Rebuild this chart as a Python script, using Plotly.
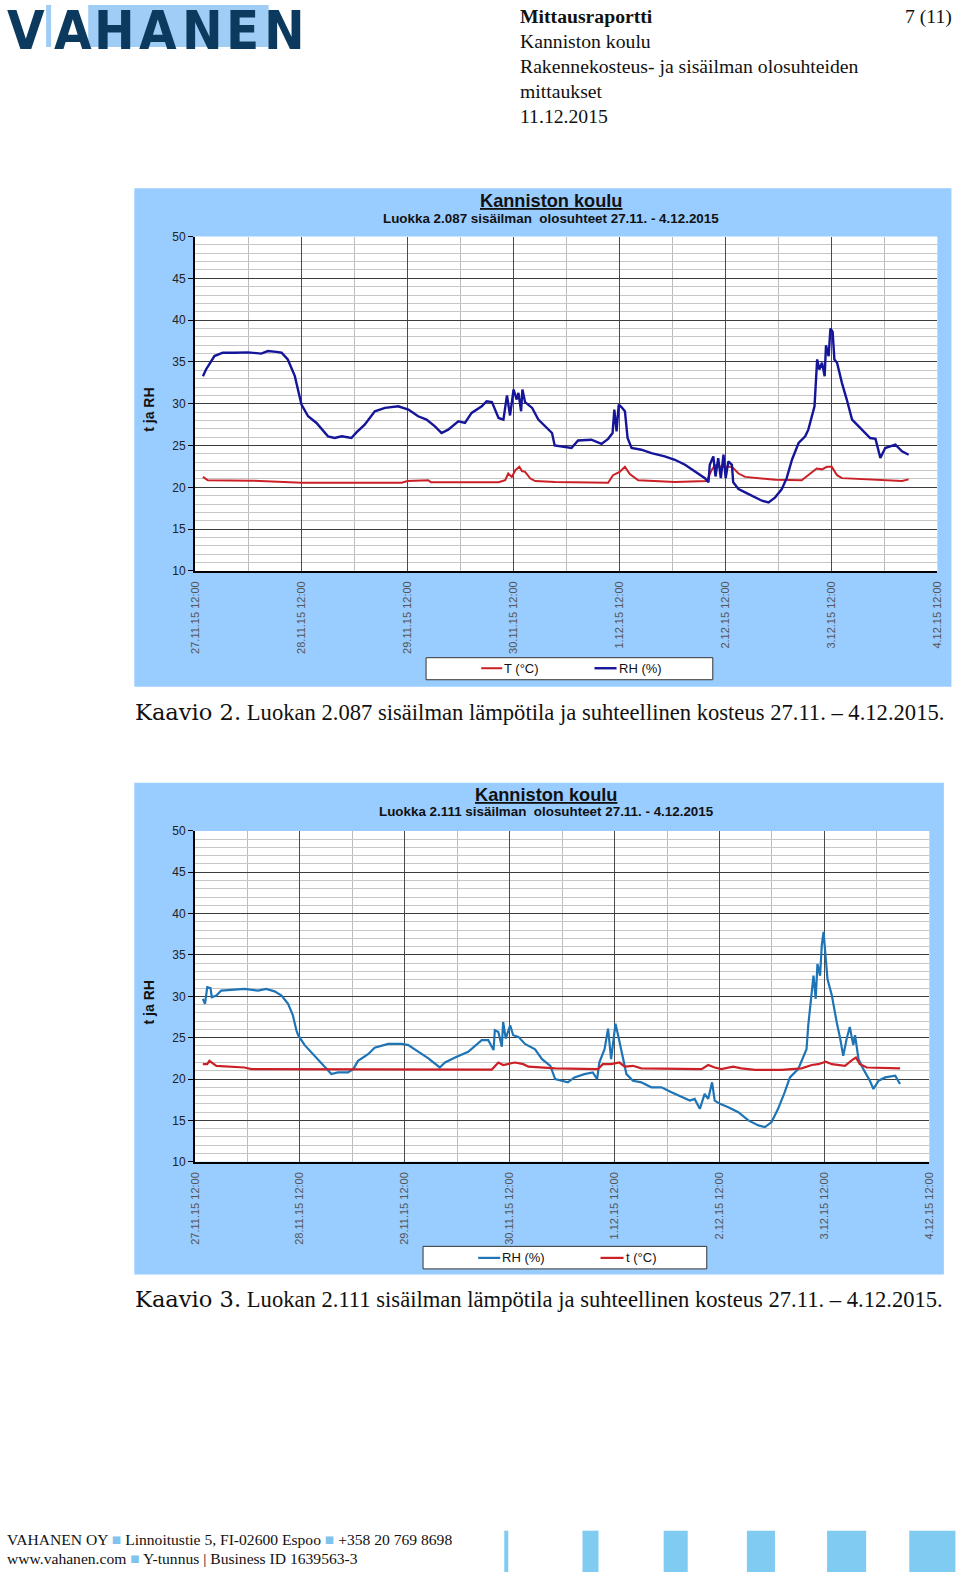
import pandas as pd
import plotly.graph_objects as go

W, H = 960, 1572
# the snapshot shows page point p at 6 + 0.985 p (x) and 6 + 0.99 p (y); place marks so they land on target
OX, OY, SX, SY = 6.0, 6.0, 0.985, 0.99
BASE = pd.Timestamp("2015-11-27 12:00")

# --- data (hours after 27.11.15 12:00, value) ---
tick_labels = ["27.11.15 12:00", "28.11.15 12:00", "29.11.15 12:00", "30.11.15 12:00",
               "1.12.15 12:00", "2.12.15 12:00", "3.12.15 12:00", "4.12.15 12:00"]
tick_hours = [0, 24, 48, 72, 96, 120, 144, 168]

# Kaavio 2, luokka 2.087
rh1_h = [1.8, 2.5, 4.4, 6.3, 9.0, 12.0, 15.0, 16.5, 18.4, 19.6, 21.0, 22.6, 23.3, 24.1, 25.6,
         27.5, 30.1, 31.6, 33.2, 35.4, 36.6, 38.4, 40.7, 43.0, 46.0, 48.3, 50.5, 52.4, 54.3,
         55.8, 57.3, 59.6, 61.1, 62.6, 64.9, 66.0, 67.2, 68.7, 69.8, 70.6, 71.3, 72.1, 72.8,
         73.2, 73.8, 74.1, 74.7, 76.3, 77.7, 79.3, 80.8, 81.4, 82.9, 85.2, 86.7, 89.7, 92.0,
         93.5, 94.5, 94.9, 95.4, 95.9, 96.5, 97.3, 97.9, 98.8, 101.0, 103.3, 106.3, 108.6,
         110.9, 113.1, 115.4, 116.2, 116.5, 117.3, 117.8, 118.4, 119.0, 119.6, 120.1, 120.7,
         121.5, 121.8, 123.0, 124.5, 126.7, 128.3, 129.8, 131.3, 132.8, 133.9, 135.1, 136.6,
         138.1, 138.8, 140.2, 140.8, 141.3, 141.9, 142.5, 142.8, 143.4, 143.8, 144.3, 144.7,
         145.3, 146.4, 147.5, 148.7, 150.2, 151.7, 152.8, 154.0, 155.1, 156.2, 158.5, 160.0,
         161.5]
rh1_v = [33.3, 34.1, 35.7, 36.1, 36.1, 36.15, 36.0, 36.3, 36.2, 36.1, 35.3, 33.3, 31.7, 29.9, 28.5,
         27.7, 26.1, 25.9, 26.1, 25.9, 26.6, 27.5, 29.1, 29.5, 29.7, 29.3, 28.5, 28.1, 27.3,
         26.5, 26.9, 27.9, 27.7, 28.9, 29.7, 30.3, 30.2, 28.3, 28.1, 31.0, 28.6, 31.7, 30.5,
         31.3, 29.1, 31.7, 30.2, 29.5, 28.1, 27.3, 26.5, 25.0, 24.9, 24.7, 25.6, 25.7, 25.2,
         25.8, 26.5, 29.3, 26.7, 29.9, 29.6, 29.1, 25.9, 24.7, 24.5, 24.1, 23.7, 23.3,
         22.7, 21.9, 21.1, 20.6, 22.7, 23.7, 21.3, 23.5, 21.1, 23.9, 21.1, 23.1,
         22.7, 20.6, 19.8, 19.4, 18.8, 18.4, 18.2, 18.8, 19.8, 21.1, 23.3, 25.3,
         26.1, 26.9, 29.7, 35.3, 34.1, 34.9, 33.3, 37.0, 35.7, 39.0, 38.6, 35.3,
         34.9, 32.5, 30.5, 28.1, 27.3, 26.5, 25.9, 25.8, 23.5, 24.7, 25.1, 24.3,
         23.9]
t1_h = [1.8, 2.9, 12.7, 24.1, 46.8, 48.1, 52.8, 53.4, 68.7, 70.2, 70.9, 71.7, 72.5, 73.4, 74.0,
        74.7, 75.9, 77.0, 81.5, 93.5, 94.6, 96.1, 97.3, 98.4, 100.3, 108.6, 115.8, 116.9, 117.7,
        119.2, 121.5, 123.0, 124.5, 131.3, 137.3, 140.7, 141.9, 143.0, 144.1, 145.3, 146.4,
        150.9, 159.3, 160.0, 161.5]
t1_v = [21.25, 20.85, 20.8, 20.55, 20.55, 20.75, 20.85, 20.6, 20.6, 20.85, 21.65, 21.25, 22.05, 22.45, 21.95,
        21.85, 21.05, 20.75, 20.65, 20.55, 21.45, 21.85, 22.45, 21.6, 20.85, 20.65, 20.75, 22.05, 22.65,
        22.45, 22.45, 21.65, 21.25, 20.9, 20.85, 22.25, 22.15, 22.45, 22.45, 21.45, 21.1,
        21.0, 20.85, 20.75, 20.95]

# Kaavio 3, luokka 2.111
rh2_h = [1.8, 2.3, 2.8, 3.55, 3.85, 4.9, 6.0, 8.3, 11.3, 14.4, 16.3, 18.2, 19.8, 21.3, 22.4, 23.2,
         23.6, 25.1, 27.4, 29.7, 31.2, 32.7, 35.0, 36.2, 37.3, 39.6, 41.1, 44.2, 47.3, 48.8,
         51.1, 53.4, 56.0, 57.2, 59.5, 62.5, 65.6, 67.1, 68.3, 68.6, 69.4, 70.2, 70.5, 71.1,
         72.1, 72.8, 74.0, 75.5, 77.8, 79.4, 81.3, 82.4, 85.3, 86.8, 89.1, 91.0, 92.0, 92.5,
         93.7, 94.5, 95.2, 96.2, 96.8, 97.5, 98.7, 100.2, 102.1, 104.4, 106.7, 109.0, 111.3,
         113.2, 114.3, 115.5, 116.6, 117.4, 118.3, 118.9, 120.1, 122.0, 124.3, 126.6, 128.9,
         130.4, 131.9, 133.4, 134.9, 136.1, 138.0, 139.9, 140.3, 140.9, 141.5, 142.0, 142.4,
         143.0, 143.4, 143.8, 144.3, 144.7, 145.7, 146.4, 146.8, 147.6, 148.3, 149.1, 149.8,
         150.6, 151.0, 151.8, 152.9, 154.4, 155.2, 156.4, 157.9, 160.2, 161.3]
rh2_v = [29.7, 29.1, 31.1, 31.0, 29.9, 30.1, 30.7, 30.8, 30.9, 30.7, 30.9, 30.6, 30.1, 29.1, 27.7, 25.9,
         25.3, 24.1, 22.8, 21.4, 20.6, 20.8, 20.8, 21.2, 22.2, 23.0, 23.8, 24.25, 24.25, 24.1,
         23.3, 22.5, 21.4, 22.0, 22.6, 23.3, 24.7, 24.7, 23.5, 25.9, 25.7, 23.9, 26.9, 24.9,
         26.5, 25.3, 25.1, 24.25, 23.6, 22.4, 21.6, 20.0, 19.6, 20.2, 20.6, 20.8, 20.0, 22.0,
         23.6, 26.1, 22.4, 26.7, 25.3, 23.6, 20.6, 19.8, 19.6, 19.0, 19.0, 18.4, 17.9,
         17.4, 17.6, 16.4, 18.2, 17.6, 19.6, 17.4, 17.0, 16.6, 16.0, 15.0, 14.4,
         14.2, 14.8, 16.4, 18.4, 20.2, 21.2, 23.6, 26.5, 29.3, 32.5, 29.7, 33.9,
         32.5, 36.2, 37.8, 34.9, 32.1, 30.1, 27.7, 26.9, 24.9, 22.8, 24.9, 26.3,
         24.1, 25.3, 22.4, 21.2, 19.8, 18.8, 19.8, 20.2, 20.4, 19.4]
t2_h = [1.8, 2.8, 3.3, 4.9, 11.3, 12.9, 67.9, 69.4, 70.5, 71.7, 73.2, 75.1, 76.3, 82.4, 92.2,
        93.3, 95.2, 97.1, 98.3, 100.2, 102.1, 115.9, 117.4, 118.9, 120.4, 123.1, 125.0, 128.1,
        134.2, 138.8, 141.1, 142.6, 144.3, 145.7, 148.7, 150.3, 151.2, 152.1, 153.7, 161.3]
t2_v = [21.8, 21.8, 22.2, 21.6, 21.4, 21.2, 21.15, 22.0, 21.7, 21.8, 22.0, 21.8, 21.5, 21.3, 21.2,
        21.8, 21.8, 22.0, 21.5, 21.6, 21.3, 21.2, 21.7, 21.4, 21.2, 21.5, 21.3, 21.1,
        21.1, 21.3, 21.7, 21.8, 22.1, 21.8, 21.6, 22.3, 22.6, 21.8, 21.4, 21.3]


def px(x):
    return (x - OX) / SX / W


def py(y):
    return 1 - (y - OY) / SY / H


def to_dates(hours):
    return BASE + pd.to_timedelta(hours, unit="h")


tick_dates = to_dates(tick_hours)
x_range = [tick_dates[0], tick_dates[-1]]

SANS = "Liberation Sans, Arial, sans-serif"
NARROW = "Liberation Sans Narrow, DejaVu Sans Condensed, Arial Narrow, sans-serif"
SERIF = "Liberation Serif, Times New Roman, serif"
RED = "#cc2027"
NAVY = "#15159a"
STEEL = "#1f74b6"

fig = go.Figure()
fig.add_trace(go.Scatter(x=to_dates(t1_h), y=t1_v, mode="lines", line=dict(color=RED, width=2),
                         xaxis="x", yaxis="y", showlegend=False))
fig.add_trace(go.Scatter(x=to_dates(rh1_h), y=rh1_v, mode="lines", line=dict(color=NAVY, width=2.4),
                         xaxis="x", yaxis="y", showlegend=False))
fig.add_trace(go.Scatter(x=to_dates(rh2_h), y=rh2_v, mode="lines", line=dict(color=STEEL, width=2.2),
                         xaxis="x2", yaxis="y2", showlegend=False))
fig.add_trace(go.Scatter(x=to_dates(t2_h), y=t2_v, mode="lines", line=dict(color=RED, width=2.2),
                         xaxis="x2", yaxis="y2", showlegend=False))


def xaxis_cfg(x0, x1, anchor):
    return dict(domain=[px(x0), px(x1)], anchor=anchor, type="date", range=x_range,
                tickmode="array", tickvals=tick_dates, ticktext=tick_labels, tickangle=-90,
                tickfont=dict(family=SANS, size=11, color="#555555"), ticks="", ticklabelstandoff=4,
                showgrid=True, gridcolor="#4a4a4a", gridwidth=1,
                minor=dict(dtick=43200000, tick0=str(BASE), showgrid=True, gridcolor="#bcbcbc", gridwidth=1),
                showline=True, linecolor="black", linewidth=2, zeroline=False, fixedrange=True)


def yaxis_cfg(y0, y1, anchor):
    return dict(domain=[py(y0), py(y1)], anchor=anchor, range=[10, 50], tick0=10, dtick=5,
                ticks="outside", ticklen=5, tickcolor="black", tickwidth=1,
                tickfont=dict(family=SANS, size=12, color="#222222"),
                showgrid=True, gridcolor="#3c3c3c", gridwidth=1,
                minor=dict(dtick=1, showgrid=True, gridcolor="#c6c6c6", gridwidth=1),
                showline=True, linecolor="black", linewidth=2, zeroline=False, fixedrange=True)


def rect(x0, x1, y0, y1, fill, line=None, layer="above"):
    return dict(type="rect", xref="paper", yref="paper", x0=px(x0), x1=px(x1), y0=py(y1), y1=py(y0),
                fillcolor=fill, line=line or dict(width=0), layer=layer)


def hline(x0, x1, y, color, width):
    return dict(type="line", xref="paper", yref="paper", x0=px(x0), x1=px(x1), y0=py(y), y1=py(y),
                line=dict(color=color, width=width))


shapes = [
    # chart backgrounds
    rect(134, 949, 187, 685, "#99ccff", layer="below"),
    rect(194.5, 935, 235.3, 569.3, "white", layer="below"),
    rect(134, 941.5, 781, 1272, "#99ccff", layer="below"),
    rect(194.5, 927, 829, 1159.5, "white", layer="below"),
    # legend boxes
    rect(425, 711, 656, 678, "white", line=dict(color="#333333", width=1)),
    hline(480, 501, 666.5, RED, 2),
    hline(593, 615, 666.5, NAVY, 2.4),
    rect(422, 705, 1244, 1266.5, "white", line=dict(color="#333333", width=1)),
    hline(477, 499, 1255.5, STEEL, 2.2),
    hline(599, 622, 1255.5, RED, 2.2),
    # logo background strips
    rect(46, 51, 4, 46, "#9fcdf5", layer="below"),
    rect(88, 268, 4, 46, "#9fcdf5", layer="below"),
]

# footer bars
for bx0, bx1 in [(503, 507), (581, 597), (662, 686), (745, 773), (825, 864), (907, 953)]:
    shapes.append(rect(bx0, bx1, 1528, 1572, "#7fcbf2"))

annotations = []


def txt(x, y, text, size, family=SERIF, color="#111111", xanchor="left", angle=0):
    annotations.append(dict(x=px(x), y=py(y), xref="paper", yref="paper", text=text, showarrow=False,
                            xanchor=xanchor, yanchor="middle", textangle=angle, borderpad=0,
                            font=dict(family=family, size=size, color=color)))


# logo letters
for ch, cx in [("V", 26), ("A", 73), ("H", 114), ("A", 158), ("N", 202), ("E", 242), ("N", 284)]:
    txt(cx, 29, "<b>%s</b>" % ch, 54, family=NARROW, color="#0b3a5e", xanchor="center")

# header
txt(518, 15, "<b>Mittausraportti</b>", 19.7)
txt(951, 15, "7 (11)", 19.7, xanchor="right")
txt(518, 40, "Kanniston koulu", 19.7)
txt(518, 65, "Rakennekosteus- ja sisäilman olosuhteiden", 19.7)
txt(518, 90, "mittaukset", 19.7)
txt(518, 115, "11.12.2015", 19.7)

# chart 1 texts
txt(550, 200, "<b><u>Kanniston koulu</u></b>", 18.2, family=SANS, xanchor="center")
txt(550, 217, "<b>Luokka 2.087 sisäilman  olosuhteet 27.11. - 4.12.2015</b>", 13.4, family=SANS, xanchor="center")
txt(149, 408, "<b>t ja RH</b>", 14, family=SANS, xanchor="center", angle=-90)
txt(502, 666.5, "T (°C)", 13, family=SANS)
txt(616, 666.5, "RH (%)", 13, family=SANS)
txt(134, 710, "<span style='font-family:DejaVu Serif'>Kaavio 2.</span> Luokan 2.087 sisäilman lämpötila ja suhteellinen kosteus 27.11. – 4.12.2015.", 22.6)

# chart 2 texts
txt(545, 793, "<b><u>Kanniston koulu</u></b>", 18.2, family=SANS, xanchor="center")
txt(545, 810, "<b>Luokka 2.111 sisäilman  olosuhteet 27.11. - 4.12.2015</b>", 13.4, family=SANS, xanchor="center")
txt(149, 1000, "<b>t ja RH</b>", 14, family=SANS, xanchor="center", angle=-90)
txt(500, 1255.5, "RH (%)", 13, family=SANS)
txt(623, 1255.5, "t (°C)", 13, family=SANS)
txt(134, 1297, "<span style='font-family:DejaVu Serif'>Kaavio 3.</span> Luokan 2.111 sisäilman lämpötila ja suhteellinen kosteus 27.11. – 4.12.2015.", 22.6)

# footer
SQ = "<span style='color:#7fc3ee'>■</span>"
txt(6, 1537, "VAHANEN OY %s Linnoitustie 5, FI-02600 Espoo %s +358 20 769 8698" % (SQ, SQ), 15.6)
txt(6, 1556, "www.vahanen.com %s Y-tunnus | Business ID 1639563-3" % SQ, 15.6)

fig.update_layout(
    width=W, height=H, margin=dict(l=0, r=0, t=0, b=0),
    paper_bgcolor="white", plot_bgcolor="rgba(0,0,0,0)",
    xaxis=xaxis_cfg(194.5, 935, "y"), yaxis=yaxis_cfg(569.3, 235.3, "x"),
    xaxis2=xaxis_cfg(194.5, 927, "y2"), yaxis2=yaxis_cfg(1159.5, 829, "x2"),
    shapes=shapes, annotations=annotations, showlegend=False,
)

fig.write_html("out.html", config={"displayModeBar": False},
               post_script="document.body.style.margin='0';")
